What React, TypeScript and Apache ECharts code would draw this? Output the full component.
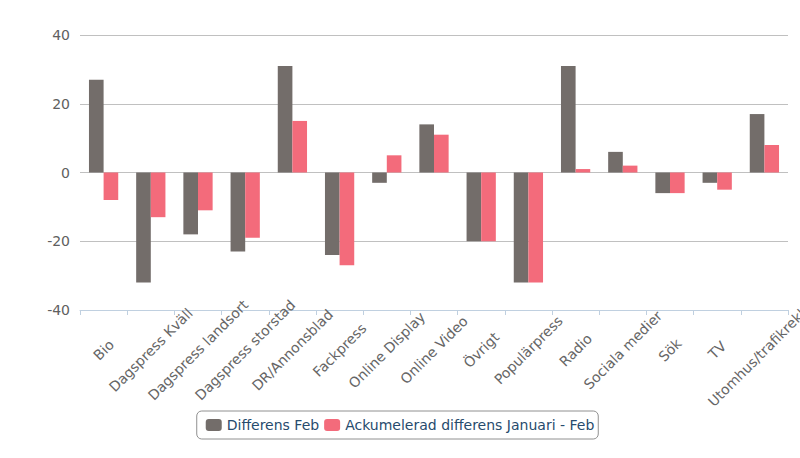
import React, { useEffect, useRef } from "react";
import * as echarts from "echarts";

const categories = [
  "Bio",
  "Dagspress Kväll",
  "Dagspress landsort",
  "Dagspress storstad",
  "DR/Annonsblad",
  "Fackpress",
  "Online Display",
  "Online Video",
  "Övrigt",
  "Populärpress",
  "Radio",
  "Sociala medier",
  "Sök",
  "TV",
  "Utomhus/trafikreklam",
];

const differensFeb = [27, -32, -18, -23, 31, -24, -3, 14, -20, -32, 31, 6, -6, -3, 17];
const ackumeleradDiff = [-8, -13, -11, -19, 15, -27, 5, 11, -20, -32, 1, 2, -6, -5, 8];

const seriesNames = ["Differens Feb", "Ackumelerad differens Januari - Feb"];
const yTicks = { min: -40, max: 40, interval: 20 };

const FONT = "'DejaVu Sans', 'Lucida Grande', sans-serif";

export default function App() {
  const ref = useRef<HTMLDivElement>(null);

  useEffect(() => {
    if (!ref.current) return;
    const chart = echarts.init(ref.current, undefined, { renderer: "svg" });
    chart.setOption({
      animation: false,
      backgroundColor: "#ffffff",
      textStyle: { fontFamily: FONT },
      grid: {
        left: 80,
        right: 12,
        top: 35,
        bottom: 148,
        containLabel: false,
        outerBoundsMode: "none",
      },
      legend: {
        data: seriesNames,
        left: "center",
        top: 411,
        orient: "horizontal",
        icon: "roundRect",
        itemWidth: 16,
        itemHeight: 12,
        itemGap: 5,
        padding: [7, 4, 7, 9],
        borderColor: "#909090",
        borderWidth: 1,
        borderRadius: 5,
        textStyle: {
          color: "#274b6d",
          fontSize: 14,
          fontFamily: FONT,
        },
      },
      xAxis: {
        type: "category",
        data: categories,
        boundaryGap: true,
        axisLine: {
          show: true,
          onZero: false,
          lineStyle: { color: "#C0D0E0", width: 1 },
        },
        axisTick: {
          show: true,
          interval: 0,
          length: 5,
          lineStyle: { color: "#C0D0E0" },
        },
        splitLine: { show: false },
        axisLabel: {
          interval: 0,
          rotate: 45,
          align: "center",
          verticalAlign: "middle",
          margin: 40,
          color: "#666666",
          fontSize: 14,
          fontFamily: FONT,
          hideOverlap: false,
        },
      },
      yAxis: {
        type: "value",
        min: yTicks.min,
        max: yTicks.max,
        interval: yTicks.interval,
        axisLine: { show: false },
        axisTick: { show: false },
        splitLine: { show: true, lineStyle: { color: "#C0C0C0", width: 1 } },
        axisLabel: {
          color: "#606060",
          fontSize: 14,
          margin: 10,
          fontFamily: FONT,
        },
      },
      series: [
        {
          name: seriesNames[0],
          type: "bar",
          data: differensFeb,
          barGap: "0%",
          barCategoryGap: "38%",
          itemStyle: { color: "#736d6a" },
        },
        {
          name: seriesNames[1],
          type: "bar",
          data: ackumeleradDiff,
          barGap: "0%",
          barCategoryGap: "38%",
          itemStyle: { color: "#f36b7b" },
        },
      ],
    });
    return () => chart.dispose();
  }, []);

  return (
    <div
      ref={ref}
      style={{ position: "fixed", left: 0, top: 0, width: 800, height: 458 }}
    />
  );
}
